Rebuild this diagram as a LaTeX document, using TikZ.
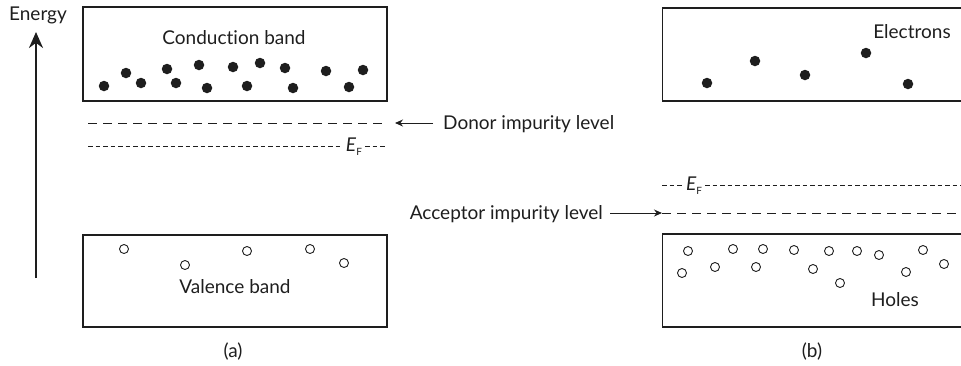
\documentclass[tikz,border=0pt]{standalone}
\usepackage{fontspec}
\setmainfont{Lato}[Ligatures={NoCommon,NoRare}]
\usetikzlibrary{arrows.meta}
\definecolor{ink}{HTML}{1E1E1E}
\begin{document}
\begin{tikzpicture}[x=1pt,y=-1pt,
  every node/.style={font=\fontsize{19}{22}\selectfont, text=ink},
  bandbox/.style={draw=ink, line width=1.2pt, minimum width=304pt, inner sep=0pt},
  rbandbox/.style={draw=ink, line width=1.2pt, minimum width=340pt, inner sep=0pt},
  electron/.style={circle, fill=ink, minimum size=10.5pt, inner sep=0pt},
  hole/.style={circle, draw=ink, line width=0.9pt, minimum size=9pt, inner sep=0pt},
  longdash/.style={draw=ink, line width=1pt, dash pattern=on 9pt off 6pt},
  shortdash/.style={draw=ink, line width=1pt, dash pattern=on 4.5pt off 3pt},
  smallarrow/.style={draw=ink, line width=1pt, -{Stealth[length=8pt,width=7pt]}},
  bigarrow/.style={draw=ink, line width=2.6pt, -{Stealth[length=16pt,width=14pt]}},
  lbl/.style={inner sep=0pt},
  eflbl/.style={inner ysep=0pt, inner xsep=3pt}
]
\clip (0,0) rectangle (961,365);
\useasboundingbox (0,0) rectangle (961,365);

% Energy axis
\node[lbl] (energy) at (38,15) {Energy};
\coordinate (ebot) at (36,278);
\coordinate (etop) at (36,32);
\draw[bigarrow] (ebot) -- (etop);

% (a) bands
\node[bandbox, minimum height=94pt] (cba) at (235,54) {};
\node[bandbox, minimum height=92pt] (vba) at (235,281) {};
\node[lbl] (cbalbl) at (234,38) {Conduction band};
\node[lbl] (vbalbl) at (235,287) {Valence band};
\node[lbl] (capa) at (233,352) {(a)};

\foreach \x/\y [count=\i] in {104/86,126/73,141/83,167/69,176/83,199/65,207/88,233/67,247/86,260/63,285/68,293/88,326/71,349/87,363/70}
  \node[electron] (ea\i) at (\x,\y) {};
\foreach \x/\y [count=\i] in {124/249,185/265,247/251,310/249,344/263}
  \node[hole] (ha\i) at (\x,\y) {};

% donor level
\coordinate (dl1) at (88,123);
\coordinate (dl2) at (387,123);
\draw[longdash] (dl1) -- (dl2);
\node[lbl, anchor=west] (donor) at (443,124) {Donor impurity level};
\coordinate (dtip) at (395,123);
\draw[smallarrow, shorten <=10pt] (donor.west |- dtip) -- (dtip);

% Fermi level (a)
\node[eflbl] (efa) at (354,147) {\itshape E\/\upshape\raisebox{-0.45ex}{\fontsize{10}{11}\selectfont F}};
\coordinate (efa1) at (88,146);
\coordinate (efa2) at (387,146);
\draw[shortdash] (efa1) -- (efa.west |- efa1);
\draw[shortdash] (efa.east |- efa2) -- (efa2);

% (b) bands
\node[rbandbox, minimum height=93pt, anchor=west] (cbb) at (662,54.5) {};
\node[rbandbox, minimum height=93pt, anchor=west] (vbb) at (662,280.5) {};
\node[lbl] (elbl) at (912,32) {Electrons};
\node[lbl] (hlbl) at (895,300) {Holes};
\node[lbl] (capb) at (812,352) {(b)};

\foreach \x/\y [count=\i] in {707/83,755/61,805/75,866/53,908/84}
  \node[electron] (eb\i) at (\x,\y) {};
\foreach \x/\y [count=\i] in {688/251,682/273,715/267,733/249,756/267,763/249,794/250,813/269,829/251,840/283,857/251,879/255,906/272,923/250,944/264}
  \node[hole] (hb\i) at (\x,\y) {};

% Fermi level (b)
\node[eflbl] (efb) at (694,186) {\itshape E\/\upshape\raisebox{-0.45ex}{\fontsize{10}{11}\selectfont F}};
\coordinate (efb1) at (662,185);
\coordinate (efb2) at (962,185);
\draw[shortdash] (efb1) -- (efb.west |- efb1);
\draw[shortdash] (efb.east |- efb2) -- (efb2);

% acceptor level
\coordinate (al1) at (662,213);
\coordinate (al2) at (962,213);
\draw[longdash] (al1) -- (al2);
\node[lbl, anchor=east] (acceptor) at (603,214) {Acceptor impurity level};
\draw[smallarrow, shorten <=7pt] (acceptor.east |- al1) -- (al1);
\end{tikzpicture}
\end{document}
